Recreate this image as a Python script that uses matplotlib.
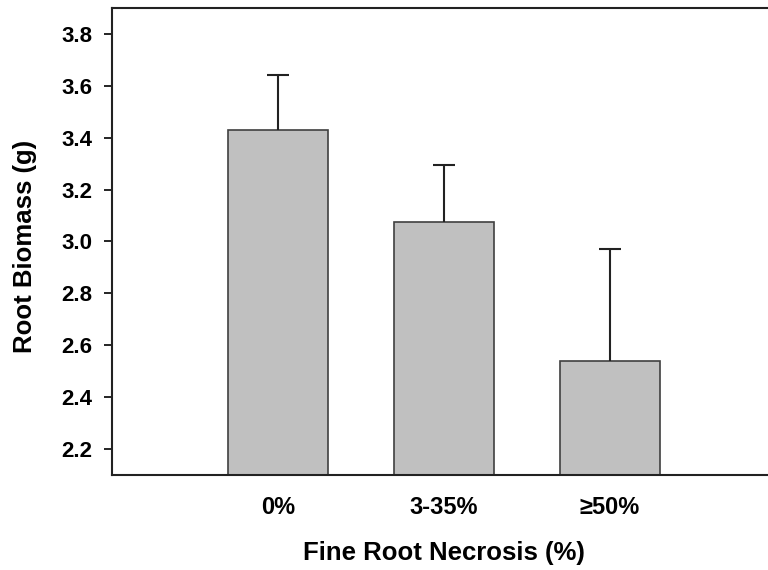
import matplotlib
matplotlib.use("Agg")
import matplotlib.pyplot as plt

plt.rcParams['font.family'] = ['Liberation Sans', 'DejaVu Sans']
plt.rcParams['font.weight'] = 'bold'

# data
categories = ["0%", "3-35%", "\u226550%"]
biomass = [3.43, 3.075, 2.54]
errors = [0.21, 0.22, 0.43]
positions = [1, 2, 3]

fig = plt.figure(figsize=(7.68, 5.70), dpi=100)
ax = fig.add_axes([0.1458, 0.1667, 0.8646, 0.8193])

ax.bar(positions, biomass, width=0.6, color="#c0c0c0", edgecolor="#404040",
       linewidth=1.2, zorder=2)
eb = ax.errorbar(positions, biomass, yerr=[[0, 0, 0], errors], fmt="none",
                 ecolor="#222222", elinewidth=1.5, capsize=8, capthick=1.5, zorder=3)
# only the upper cap is shown
eb[1][0].set_visible(False)

ax.set_xlim(0, 4)
ax.set_ylim(2.1, 3.9)
ax.set_yticks([2.2, 2.4, 2.6, 2.8, 3.0, 3.2, 3.4, 3.6, 3.8])
ax.set_yticklabels(["2.2", "2.4", "2.6", "2.8", "3.0", "3.2", "3.4", "3.6", "3.8"])
ax.set_xticks(positions)
ax.set_xticklabels(categories)
ax.tick_params(axis="x", length=0, pad=15, labelsize=17)
ax.tick_params(axis="y", length=6, width=1.2, pad=8, labelsize=16)

for side in ["left", "bottom", "top", "right"]:
    ax.spines[side].set_linewidth(1.5)
    ax.spines[side].set_color("#222222")

ax.set_ylabel("Root Biomass (g)", fontsize=18.5, fontweight="bold")
ax.yaxis.set_label_coords(-0.113, 0.49)
ax.set_xlabel("Fine Root Necrosis (%)", fontsize=18.5, fontweight="bold", labelpad=16)

fig.savefig("out.png", dpi=100)
